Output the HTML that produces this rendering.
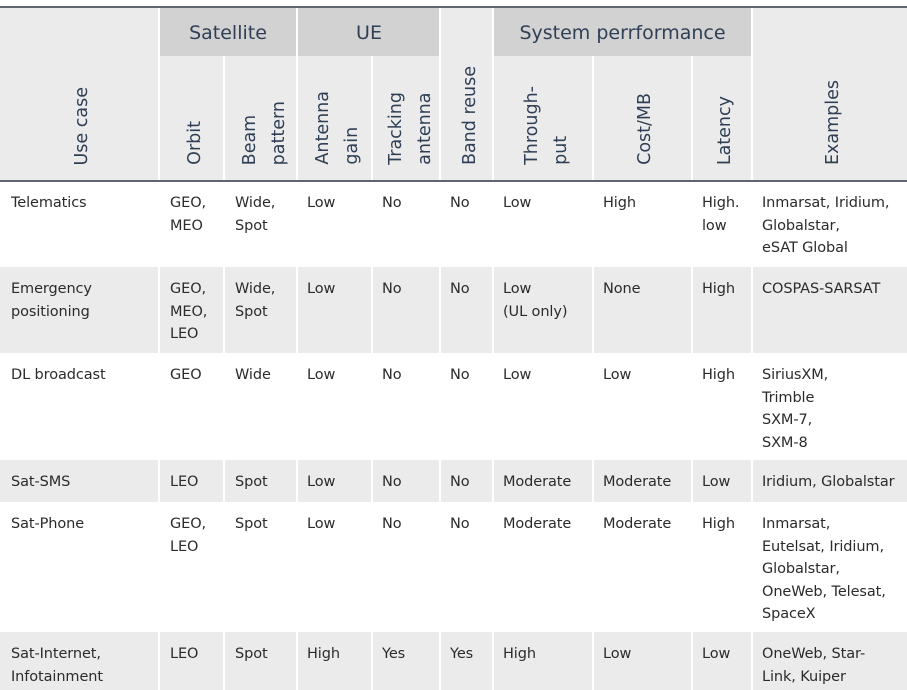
<!DOCTYPE html>
<html><head><meta charset="utf-8"><style>
body{margin:0;width:907px;height:690px;overflow:hidden;background:#fff;position:relative;font-family:"DejaVu Sans","Liberation Sans",sans-serif;}
div{position:absolute;box-sizing:border-box;}
.bg{background:#ebebeb;}
.gp{background:#d2d2d2;}
.sep{background:#fff;width:2px;}
.line{background:#5f6670;height:2px;left:0;width:907px;}
.g{color:#2f3f55;font-size:19px;text-align:center;top:19px;line-height:28px;}
.v{writing-mode:vertical-rl;transform:rotate(180deg);color:#2f3f55;font-size:17.5px;line-height:29px;bottom:525px;white-space:nowrap;}
.t{color:#2b2b2b;font-size:14.5px;line-height:22.6px;white-space:nowrap;letter-spacing:-0.1px;}
</style></head><body>
<div class="bg" style="left:0;top:7px;width:907px;height:174px"></div>
<div class="gp" style="left:160px;top:7px;width:136px;height:49px"></div>
<div class="gp" style="left:298px;top:7px;width:142px;height:49px"></div>
<div class="gp" style="left:494px;top:7px;width:257px;height:49px"></div>
<div class="sep" style="left:158px;top:7px;height:174px"></div>
<div class="sep" style="left:223px;top:56px;height:125px"></div>
<div class="sep" style="left:296px;top:7px;height:174px"></div>
<div class="sep" style="left:371px;top:56px;height:125px"></div>
<div class="sep" style="left:439px;top:7px;height:174px"></div>
<div class="sep" style="left:492px;top:7px;height:174px"></div>
<div class="sep" style="left:592px;top:56px;height:125px"></div>
<div class="sep" style="left:691px;top:56px;height:125px"></div>
<div class="sep" style="left:751px;top:7px;height:174px"></div>
<div class="line" style="top:6px"></div>
<div class="line" style="top:180px"></div>
<div class="g" style="left:160px;width:136px">Satellite</div>
<div class="g" style="left:298px;width:142px">UE</div>
<div class="g" style="left:494px;width:257px">System perrformance</div>
<div class="v" style="left:68px">Use case</div>
<div class="v" style="left:181px">Orbit</div>
<div class="v" style="left:236px">Beam<br>pattern</div>
<div class="v" style="left:309px">Antenna<br>gain</div>
<div class="v" style="left:382px">Tracking<br>antenna</div>
<div class="v" style="left:456px">Band reuse</div>
<div class="v" style="left:518px">Through-<br>put</div>
<div class="v" style="left:631px">Cost/MB</div>
<div class="v" style="left:711px">Latency</div>
<div class="v" style="left:819px">Examples</div>
<div class="bg" style="left:0;top:267px;width:907px;height:86px"></div>
<div class="bg" style="left:0;top:460px;width:907px;height:42px"></div>
<div class="bg" style="left:0;top:632px;width:907px;height:58px"></div>
<div class="sep" style="left:158px;top:267px;height:86px"></div><div class="sep" style="left:223px;top:267px;height:86px"></div><div class="sep" style="left:296px;top:267px;height:86px"></div><div class="sep" style="left:371px;top:267px;height:86px"></div><div class="sep" style="left:439px;top:267px;height:86px"></div><div class="sep" style="left:492px;top:267px;height:86px"></div><div class="sep" style="left:592px;top:267px;height:86px"></div><div class="sep" style="left:691px;top:267px;height:86px"></div><div class="sep" style="left:751px;top:267px;height:86px"></div>
<div class="sep" style="left:158px;top:460px;height:42px"></div><div class="sep" style="left:223px;top:460px;height:42px"></div><div class="sep" style="left:296px;top:460px;height:42px"></div><div class="sep" style="left:371px;top:460px;height:42px"></div><div class="sep" style="left:439px;top:460px;height:42px"></div><div class="sep" style="left:492px;top:460px;height:42px"></div><div class="sep" style="left:592px;top:460px;height:42px"></div><div class="sep" style="left:691px;top:460px;height:42px"></div><div class="sep" style="left:751px;top:460px;height:42px"></div>
<div class="sep" style="left:158px;top:632px;height:58px"></div><div class="sep" style="left:223px;top:632px;height:58px"></div><div class="sep" style="left:296px;top:632px;height:58px"></div><div class="sep" style="left:371px;top:632px;height:58px"></div><div class="sep" style="left:439px;top:632px;height:58px"></div><div class="sep" style="left:492px;top:632px;height:58px"></div><div class="sep" style="left:592px;top:632px;height:58px"></div><div class="sep" style="left:691px;top:632px;height:58px"></div><div class="sep" style="left:751px;top:632px;height:58px"></div>
<div class="t" style="left:11px;top:192px">Telematics</div>
<div class="t" style="left:170px;top:192px">GEO,<br>MEO</div>
<div class="t" style="left:235px;top:192px">Wide,<br>Spot</div>
<div class="t" style="left:307px;top:192px">Low</div>
<div class="t" style="left:382px;top:192px">No</div>
<div class="t" style="left:450px;top:192px">No</div>
<div class="t" style="left:503px;top:192px">Low</div>
<div class="t" style="left:603px;top:192px">High</div>
<div class="t" style="left:702px;top:192px">High.<br>low</div>
<div class="t" style="left:762px;top:192px">Inmarsat, Iridium,<br>Globalstar,<br>eSAT Global</div>
<div class="t" style="left:11px;top:278px">Emergency<br>positioning</div>
<div class="t" style="left:170px;top:278px">GEO,<br>MEO,<br>LEO</div>
<div class="t" style="left:235px;top:278px">Wide,<br>Spot</div>
<div class="t" style="left:307px;top:278px">Low</div>
<div class="t" style="left:382px;top:278px">No</div>
<div class="t" style="left:450px;top:278px">No</div>
<div class="t" style="left:503px;top:278px">Low<br>(UL only)</div>
<div class="t" style="left:603px;top:278px">None</div>
<div class="t" style="left:702px;top:278px">High</div>
<div class="t" style="left:762px;top:278px">COSPAS-SARSAT</div>
<div class="t" style="left:11px;top:364px">DL broadcast</div>
<div class="t" style="left:170px;top:364px">GEO</div>
<div class="t" style="left:235px;top:364px">Wide</div>
<div class="t" style="left:307px;top:364px">Low</div>
<div class="t" style="left:382px;top:364px">No</div>
<div class="t" style="left:450px;top:364px">No</div>
<div class="t" style="left:503px;top:364px">Low</div>
<div class="t" style="left:603px;top:364px">Low</div>
<div class="t" style="left:702px;top:364px">High</div>
<div class="t" style="left:762px;top:364px">SiriusXM,<br>Trimble<br>SXM-7,<br>SXM-8</div>
<div class="t" style="left:11px;top:471px">Sat-SMS</div>
<div class="t" style="left:170px;top:471px">LEO</div>
<div class="t" style="left:235px;top:471px">Spot</div>
<div class="t" style="left:307px;top:471px">Low</div>
<div class="t" style="left:382px;top:471px">No</div>
<div class="t" style="left:450px;top:471px">No</div>
<div class="t" style="left:503px;top:471px">Moderate</div>
<div class="t" style="left:603px;top:471px">Moderate</div>
<div class="t" style="left:702px;top:471px">Low</div>
<div class="t" style="left:762px;top:471px">Iridium, Globalstar</div>
<div class="t" style="left:11px;top:513px">Sat-Phone</div>
<div class="t" style="left:170px;top:513px">GEO,<br>LEO</div>
<div class="t" style="left:235px;top:513px">Spot</div>
<div class="t" style="left:307px;top:513px">Low</div>
<div class="t" style="left:382px;top:513px">No</div>
<div class="t" style="left:450px;top:513px">No</div>
<div class="t" style="left:503px;top:513px">Moderate</div>
<div class="t" style="left:603px;top:513px">Moderate</div>
<div class="t" style="left:702px;top:513px">High</div>
<div class="t" style="left:762px;top:513px">Inmarsat,<br>Eutelsat, Iridium,<br>Globalstar,<br>OneWeb, Telesat,<br>SpaceX</div>
<div class="t" style="left:11px;top:643px">Sat-Internet,<br>Infotainment</div>
<div class="t" style="left:170px;top:643px">LEO</div>
<div class="t" style="left:235px;top:643px">Spot</div>
<div class="t" style="left:307px;top:643px">High</div>
<div class="t" style="left:382px;top:643px">Yes</div>
<div class="t" style="left:450px;top:643px">Yes</div>
<div class="t" style="left:503px;top:643px">High</div>
<div class="t" style="left:603px;top:643px">Low</div>
<div class="t" style="left:702px;top:643px">Low</div>
<div class="t" style="left:762px;top:643px">OneWeb, Star-<br>Link, Kuiper</div>
</body></html>
